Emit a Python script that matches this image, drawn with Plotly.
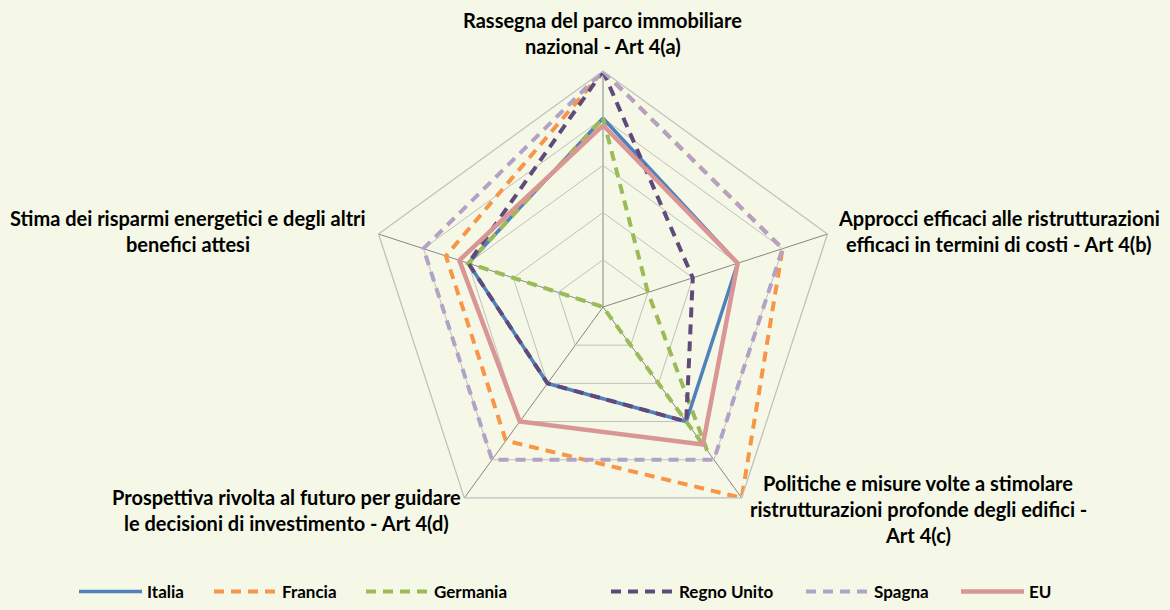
import plotly.graph_objects as go

categories = ["Art 4(a)", "Art 4(b)", "Art 4(c)", "Art 4(d)", "Art 4(e)"]

italia = [4, 3, 3, 2, 3]
francia = [5, 4, 5, 3.5, 3.5]
germania = [4, 1, 3.75, 0, 3]
regno_unito = [5, 2, 3, 2, 3]
spagna = [5, 4, 4, 4, 4]
eu = [3.85, 3, 3.6, 3, 3.2]

axis_labels = [
    ["Rassegna del parco immobiliare", "nazional - Art 4(a)"],
    ["Approcci efficaci alle ristrutturazioni", "efficaci in termini di costi - Art 4(b)"],
    ["Politiche e misure volte a stimolare", "ristrutturazioni profonde degli edifici -", "Art 4(c)"],
    ["Prospettiva rivolta al futuro per guidare", "le decisioni di investimento - Art 4(d)"],
    ["Stima dei risparmi energetici e degli altri", "benefici attesi"],
]

series = [
    ("Italia", italia, "#4F81BD", "solid", 3.5),
    ("Francia", francia, "#F79646", "10px,7px", 4),
    ("Germania", germania, "#9BBB59", "10px,7px", 4),
    ("Regno Unito", regno_unito, "#604A7B", "10px,7px", 4),
    ("Spagna", spagna, "#B3A2C7", "10px,7px", 4),
    ("EU", eu, "#D99694", "solid", 4.5),
]

W, H = 1170, 610
cx, cy, rad = 603, 307, 236
legend_left = [80, 215, 367, 612, 807, 962]  # px where each legend entry starts

fig = go.Figure()
legend_layout = {}
for i, (name, vals, color, dash, width) in enumerate(series):
    key = "legend" if i == 0 else f"legend{i + 1}"
    fig.add_trace(go.Scatterpolar(
        r=vals + vals[:1], theta=categories + categories[:1],
        mode="lines", name=name, legend=key,
        line=dict(color=color, dash=dash, width=width),
    ))
    legend_layout[key] = dict(
        orientation="h", x=(legend_left[i] - 6) / W, xanchor="left",
        y=0, yanchor="bottom", itemwidth=63, bgcolor="rgba(0,0,0,0)",
        font=dict(family="Lato", size=17, color="#000000", weight="bold"),
    )

# label anchor points (pixels from top-left), one per axis
label_pos = [(603, 20), (999, 218), (918, 483), (286, 497), (188, 218)]
line_gap = 26
for lines, (x, y) in zip(axis_labels, label_pos):
    for i, txt in enumerate(lines):
        fig.add_annotation(
            x=x / W, y=1 - (y + i * line_gap) / H, xref="paper", yref="paper",
            text=txt, showarrow=False, xanchor="center", yanchor="middle",
            font=dict(family="Lato", size=20, color="#000000", weight="bold"),
        )

fig.update_layout(
    width=W, height=H,
    paper_bgcolor="#F5F8E6", plot_bgcolor="#F5F8E6",
    margin=dict(l=0, r=0, t=0, b=0),
    polar=dict(
        domain=dict(x=[(cx - rad) / W, (cx + rad) / W],
                    y=[1 - (cy + rad) / H, 1 - (cy - rad) / H]),
        bgcolor="rgba(0,0,0,0)",
        gridshape="linear",
        radialaxis=dict(range=[0, 5], dtick=1, showticklabels=False, ticks="",
                        showline=False, gridcolor="#C0C0C0", gridwidth=1.3),
        angularaxis=dict(rotation=90, direction="clockwise", showticklabels=False,
                         ticks="", gridcolor="#868686", gridwidth=1.3,
                         linecolor="#C0C0C0", linewidth=1.3),
    ),
    showlegend=True,
    **legend_layout,
)

fig.write_html("out.html", config={"displayModeBar": False},
               post_script="document.body.style.margin='0px';")
